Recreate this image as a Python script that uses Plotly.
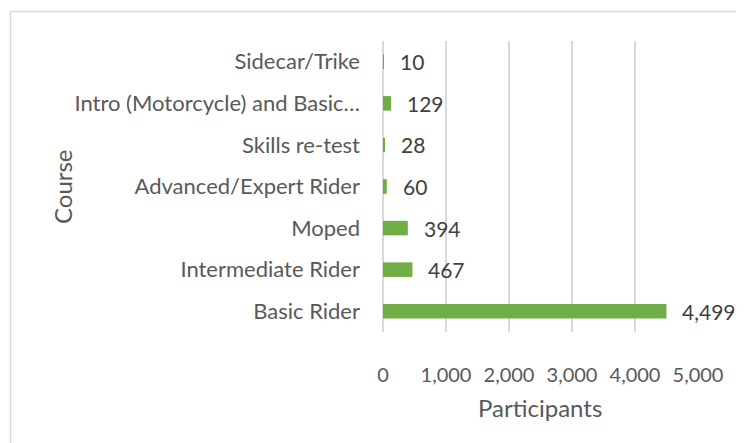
import plotly.graph_objects as go

courses = ["Basic Rider", "Intermediate Rider", "Moped", "Advanced/Expert Rider",
           "Skills re-test", "Intro (Motorcycle) and Basic\u2026", "Sidecar/Trike"]
participants = [4499, 467, 394, 60, 28, 129, 10]
x_ticks = [0, 1000, 2000, 3000, 4000, 5000]
x_tick_labels = ["0", "1,000", "2,000", "3,000", "4,000", "5,000"]

FONT = "Lato, Calibri, sans-serif"
GREY = "#595959"

# page body has an 8px default margin; work in page pixels and convert
OFF = 8
W, H = 744 - OFF, 443 - OFF
L, R, T, B = 383 - OFF, 46, 41 - OFF, 111
pw, ph = W - L - R, H - T - B
def px_to_paper_x(px):
    return (px - OFF - L) / pw
def px_to_paper_y(py):
    return (H - B - (py - OFF)) / ph

fig = go.Figure()
fig.add_trace(go.Bar(
    y=courses, x=participants, orientation="h",
    marker=dict(color="#70AD47", line=dict(width=0)),
    hoverinfo="skip",
))

annotations = []
for c, v in zip(courses, participants):
    annotations.append(dict(x=v, y=c, xref="x", yref="y", text=f"{v:,}",
                            showarrow=False, xanchor="left", xshift=14,
                            font=dict(family=FONT, size=21, color="#404040")))
annotations.append(dict(x=px_to_paper_x(62), y=px_to_paper_y(187), xref="paper", yref="paper",
                        text="Course", textangle=-90, showarrow=False,
                        xanchor="center", yanchor="middle",
                        font=dict(family=FONT, size=24, color=GREY)))
annotations.append(dict(x=px_to_paper_x(540), y=px_to_paper_y(407), xref="paper", yref="paper",
                        text="Participants", showarrow=False,
                        xanchor="center", yanchor="middle",
                        font=dict(family=FONT, size=24, color=GREY)))

shapes = [
    dict(type="line", xref="paper", yref="paper",
         x0=px_to_paper_x(10.5), x1=px_to_paper_x(10.5),
         y0=px_to_paper_y(11.5), y1=px_to_paper_y(470),
         line=dict(color="#D9D9D9", width=1.5)),
    dict(type="line", xref="paper", yref="paper",
         x0=px_to_paper_x(10.5), x1=px_to_paper_x(770),
         y0=px_to_paper_y(11.5), y1=px_to_paper_y(11.5),
         line=dict(color="#D9D9D9", width=1.5)),
]

fig.update_layout(
    width=W, height=H,
    margin=dict(l=L, r=R, t=T, b=B, pad=0),
    paper_bgcolor="white", plot_bgcolor="white",
    bargap=0.65,
    showlegend=False,
    annotations=annotations,
    shapes=shapes,
    font=dict(family=FONT, color=GREY),
    xaxis=dict(range=[0, 5000], tickvals=x_ticks, ticktext=x_tick_labels,
               showgrid=True, gridcolor="#D9D9D9", gridwidth=1.5,
               zeroline=True, zerolinecolor="#D9D9D9", zerolinewidth=1.5,
               showline=False, ticks="", ticklabelstandoff=29,
               tickfont=dict(family=FONT, size=20, color=GREY), fixedrange=True),
    yaxis=dict(categoryorder="array", categoryarray=courses,
               showgrid=False, zeroline=False, showline=False, ticks="",
               ticklabelstandoff=22,
               tickfont=dict(family=FONT, size=22, color=GREY), fixedrange=True),
)

fig.write_html("out.html")
